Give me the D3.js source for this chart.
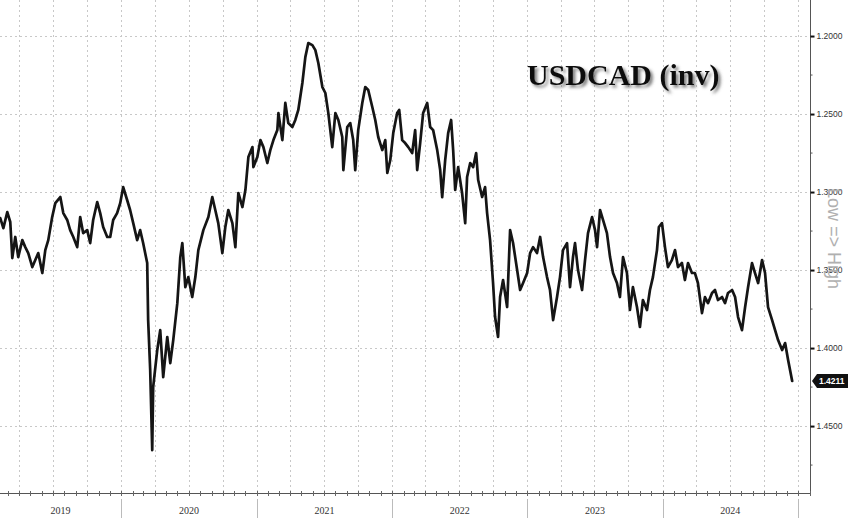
<!DOCTYPE html>
<html><head><meta charset="utf-8">
<script src="https://cdn.jsdelivr.net/npm/d3@7"></script>
<style>html,body{margin:0;padding:0;background:#fff;}svg{display:block;}</style>
</head><body>
<svg id="c" width="848" height="518"></svg>
<script>
// ---- data (decimal years, USDCAD spot) ----
const years = [2019.106,2019.129,2019.158,2019.180,2019.195,2019.217,2019.239,2019.269,2019.291,2019.313,2019.343,2019.365,2019.387,2019.417,2019.439,2019.461,2019.490,2019.513,2019.550,2019.572,2019.601,2019.623,2019.646,2019.675,2019.697,2019.719,2019.749,2019.771,2019.793,2019.823,2019.845,2019.867,2019.897,2019.919,2019.941,2019.970,2019.993,2020.015,2020.044,2020.066,2020.089,2020.118,2020.140,2020.162,2020.192,2020.199,2020.214,2020.229,2020.236,2020.266,2020.288,2020.310,2020.340,2020.362,2020.384,2020.414,2020.436,2020.451,2020.473,2020.495,2020.524,2020.547,2020.569,2020.606,2020.643,2020.672,2020.694,2020.716,2020.746,2020.768,2020.790,2020.820,2020.842,2020.864,2020.894,2020.916,2020.938,2020.968,2020.975,2021.004,2021.027,2021.049,2021.078,2021.100,2021.123,2021.152,2021.160,2021.189,2021.211,2021.233,2021.263,2021.285,2021.307,2021.337,2021.359,2021.381,2021.411,2021.433,2021.455,2021.485,2021.507,2021.529,2021.558,2021.581,2021.603,2021.632,2021.640,2021.669,2021.691,2021.713,2021.728,2021.750,2021.780,2021.802,2021.824,2021.854,2021.876,2021.898,2021.928,2021.950,2021.965,2021.987,2022.009,2022.038,2022.053,2022.075,2022.097,2022.120,2022.149,2022.171,2022.186,2022.208,2022.230,2022.260,2022.282,2022.304,2022.334,2022.356,2022.371,2022.393,2022.415,2022.437,2022.452,2022.467,2022.489,2022.518,2022.541,2022.555,2022.578,2022.600,2022.622,2022.637,2022.666,2022.688,2022.703,2022.725,2022.747,2022.762,2022.784,2022.799,2022.821,2022.851,2022.873,2022.895,2022.925,2022.947,2022.969,2022.999,2023.021,2023.043,2023.072,2023.095,2023.117,2023.146,2023.168,2023.191,2023.220,2023.242,2023.264,2023.294,2023.316,2023.338,2023.353,2023.375,2023.405,2023.427,2023.449,2023.479,2023.501,2023.516,2023.538,2023.560,2023.589,2023.612,2023.634,2023.663,2023.685,2023.708,2023.737,2023.759,2023.781,2023.811,2023.833,2023.855,2023.885,2023.907,2023.929,2023.959,2023.973,2023.996,2024.018,2024.040,2024.069,2024.092,2024.114,2024.143,2024.165,2024.188,2024.217,2024.239,2024.261,2024.291,2024.313,2024.335,2024.365,2024.387,2024.409,2024.439,2024.461,2024.483,2024.513,2024.535,2024.557,2024.586,2024.609,2024.631,2024.660,2024.682,2024.705,2024.734,2024.756,2024.778,2024.808,2024.830,2024.852,2024.882,2024.904,2024.926,2024.956];
const usdcad = [1.3167,1.3231,1.3128,1.3192,1.3423,1.3288,1.3417,1.3308,1.3353,1.3391,1.3481,1.3436,1.3391,1.3519,1.3372,1.3308,1.3160,1.3071,1.3032,1.3135,1.3179,1.3244,1.3288,1.3353,1.3160,1.3263,1.3244,1.3327,1.3179,1.3064,1.3135,1.3224,1.3288,1.3288,1.3179,1.3135,1.3071,1.2968,1.3051,1.3115,1.3199,1.3308,1.3244,1.3327,1.3455,1.3821,1.4141,1.4654,1.4250,1.4013,1.3885,1.4186,1.3929,1.4096,1.3949,1.3712,1.3417,1.3327,1.3609,1.3545,1.3673,1.3545,1.3372,1.3244,1.3160,1.3032,1.3115,1.3199,1.3391,1.3224,1.3115,1.3199,1.3353,1.3006,1.3096,1.2987,1.2776,1.2712,1.2840,1.2776,1.2667,1.2712,1.2814,1.2731,1.2667,1.2603,1.2494,1.2667,1.2429,1.2558,1.2583,1.2538,1.2474,1.2301,1.2135,1.2045,1.2058,1.2090,1.2173,1.2327,1.2365,1.2494,1.2712,1.2494,1.2538,1.2647,1.2859,1.2583,1.2558,1.2667,1.2859,1.2603,1.2429,1.2327,1.2346,1.2455,1.2538,1.2647,1.2731,1.2667,1.2878,1.2795,1.2622,1.2494,1.2474,1.2667,1.2686,1.2712,1.2750,1.2603,1.2859,1.2686,1.2494,1.2429,1.2583,1.2603,1.2731,1.2859,1.3032,1.2795,1.2622,1.2538,1.2731,1.2987,1.2840,1.3006,1.3199,1.2904,1.2814,1.2840,1.2750,1.2923,1.3032,1.2968,1.3135,1.3308,1.3583,1.3801,1.3929,1.3673,1.3564,1.3737,1.3244,1.3327,1.3500,1.3628,1.3583,1.3519,1.3391,1.3353,1.3391,1.3288,1.3417,1.3545,1.3628,1.3821,1.3673,1.3545,1.3372,1.3327,1.3609,1.3417,1.3327,1.3500,1.3628,1.3436,1.3263,1.3160,1.3244,1.3353,1.3115,1.3179,1.3263,1.3417,1.3519,1.3583,1.3673,1.3417,1.3519,1.3756,1.3609,1.3737,1.3865,1.3692,1.3756,1.3628,1.3545,1.3372,1.3224,1.3199,1.3353,1.3481,1.3436,1.3372,1.3481,1.3455,1.3564,1.3455,1.3519,1.3519,1.3583,1.3776,1.3673,1.3712,1.3647,1.3628,1.3692,1.3673,1.3712,1.3647,1.3628,1.3673,1.3801,1.3885,1.3737,1.3609,1.3455,1.3519,1.3583,1.3436,1.3519,1.3737,1.3821,1.3885,1.3949,1.4013,1.3968,1.4077,1.4211];
const yTicks = [1.2000,1.2500,1.3000,1.3500,1.4000,1.4500];
const yearLabels = ["2019","2020","2021","2022","2023","2024"];
const lastLabel = "1.4211";
const titleText = "USDCAD (inv)";
const sideText = "Low => High";

function decToDate(t){
  const y = Math.floor(t);
  const s = Date.UTC(y,0,1), e = Date.UTC(y+1,0,1);
  return new Date(s + (t-y)*(e-s));
}
const data = years.map((t,i)=>({d:decToDate(t), v:usdcad[i]}));

const W=848,H=518, plotR=810, plotB=493;
const svg = d3.select("#c");
const x = d3.scaleUtc().domain([new Date(Date.UTC(2019,1,8)), new Date(Date.UTC(2025,1,2))]).range([0, plotR]);
const y = d3.scaleLinear().domain([1.1769, 1.4929]).range([0, plotB]);

const defs = svg.append("defs");
defs.append("clipPath").attr("id","clip").append("rect").attr("x",0).attr("y",0).attr("width",plotR).attr("height",plotB);
const f = defs.append("filter").attr("id","sh").attr("x","-10%").attr("y","-30%").attr("width","130%").attr("height","170%");
f.append("feDropShadow").attr("dx",2.5).attr("dy",2.5).attr("stdDeviation",1.8).attr("flood-color","#555").attr("flood-opacity",0.75);

// grid
const g = svg.append("g");
g.selectAll("line.h").data(yTicks).join("line")
  .attr("x1",0).attr("x2",plotR).attr("y1",d=>Math.round(y(d))+0.5).attr("y2",d=>Math.round(y(d))+0.5)
  .attr("stroke","#c8c8c8").attr("stroke-width",1).attr("stroke-dasharray","2,3");
const quarters = d3.utcMonth.every(3).range(x.domain()[0], x.domain()[1]);
g.selectAll("line.v").data(quarters).join("line")
  .attr("x1",d=>Math.round(x(d))+0.5).attr("x2",d=>Math.round(x(d))+0.5).attr("y1",0).attr("y2",plotB)
  .attr("stroke","#c8c8c8").attr("stroke-width",1).attr("stroke-dasharray","2,3");

// title
svg.append("text").attr("x",527).attr("y",85).text(titleText)
  .attr("font-family","'Liberation Serif','Times New Roman',serif").attr("font-weight","bold")
  .attr("font-size",30).attr("fill","#111").attr("filter","url(#sh)");

// line
const line = d3.line().x(d=>x(d.d)).y(d=>y(d.v)).curve(d3.curveLinear);
svg.append("path").datum(data).attr("clip-path","url(#clip)")
  .attr("d",line).attr("fill","none").attr("stroke","#151515").attr("stroke-width",2.7)
  .attr("stroke-linejoin","round").attr("stroke-linecap","round");

// right axis
const ax = svg.append("g").attr("transform",`translate(${plotR+0.5},0)`);
const yAxis = d3.axisRight(y).tickValues(yTicks).tickFormat(d3.format(".4f")).tickSize(4).tickPadding(2);
ax.call(yAxis);
ax.select(".domain").attr("stroke","#555").attr("d",`M0,0V${plotB}`);
ax.selectAll(".tick line").attr("stroke","#111").attr("stroke-width",2);
ax.selectAll(".tick text").attr("font-family","'Liberation Sans',Arial,sans-serif").attr("font-size",8.5).attr("fill","#333");
const minor = d3.range(1.175,1.49,0.025).filter(v=>!yTicks.some(t=>Math.abs(t-v)<1e-6));
ax.selectAll("line.mn").data(minor).join("line").attr("x1",0).attr("x2",2).attr("y1",d=>y(d)).attr("y2",d=>y(d)).attr("stroke","#555");

// bottom axis
svg.append("line").attr("x1",0).attr("x2",plotR+1).attr("y1",plotB+0.5).attr("y2",plotB+0.5).attr("stroke","#555");
const months = d3.utcMonth.range(x.domain()[0], x.domain()[1]);
svg.selectAll("line.mt").data(months).join("line")
  .attr("x1",d=>Math.round(x(d))+0.5).attr("x2",d=>Math.round(x(d))+0.5).attr("y1",plotB-2).attr("y2",plotB+3).attr("stroke","#666");

// year separators and labels
const yStarts = yearLabels.map(s=>new Date(Date.UTC(+s,0,1)));
const seps = yStarts.slice(1).concat([new Date(Date.UTC(2025,0,1))]);
svg.selectAll("line.ys").data(seps).join("line")
  .attr("x1",d=>Math.round(x(d))+0.5).attr("x2",d=>Math.round(x(d))+0.5).attr("y1",plotB+6).attr("y2",H)
  .attr("stroke","#bbb");
svg.selectAll("text.yl").data(yearLabels).join("text")
  .attr("x",(s,i)=>{const a=Math.max(0,x(yStarts[i])); const b=Math.min(plotR,x(seps[i])); return (a+b)/2;})
  .attr("y",514).attr("text-anchor","middle").text(s=>s)
  .attr("font-family","'Liberation Serif','Times New Roman',serif").attr("font-size",10).attr("fill","#333");

// last value tag
const ly = y(usdcad[usdcad.length-1]);
svg.append("path").attr("d",`M${plotR+2},${ly} L${plotR+7},${ly-7} H${W} V${ly+7} H${plotR+7} Z`).attr("fill","#111");
svg.append("text").attr("x",plotR+9).attr("y",ly+3).text(lastLabel)
  .attr("font-family","'Liberation Sans',Arial,sans-serif").attr("font-size",8.5).attr("font-weight","bold").attr("fill","#fff");

// side text
svg.append("text").attr("transform",`translate(828,188) rotate(90)`).text(sideText)
  .attr("font-family","'Liberation Sans',Arial,sans-serif").attr("font-size",18).attr("fill","#b0b0b0");
</script>
</body></html>
